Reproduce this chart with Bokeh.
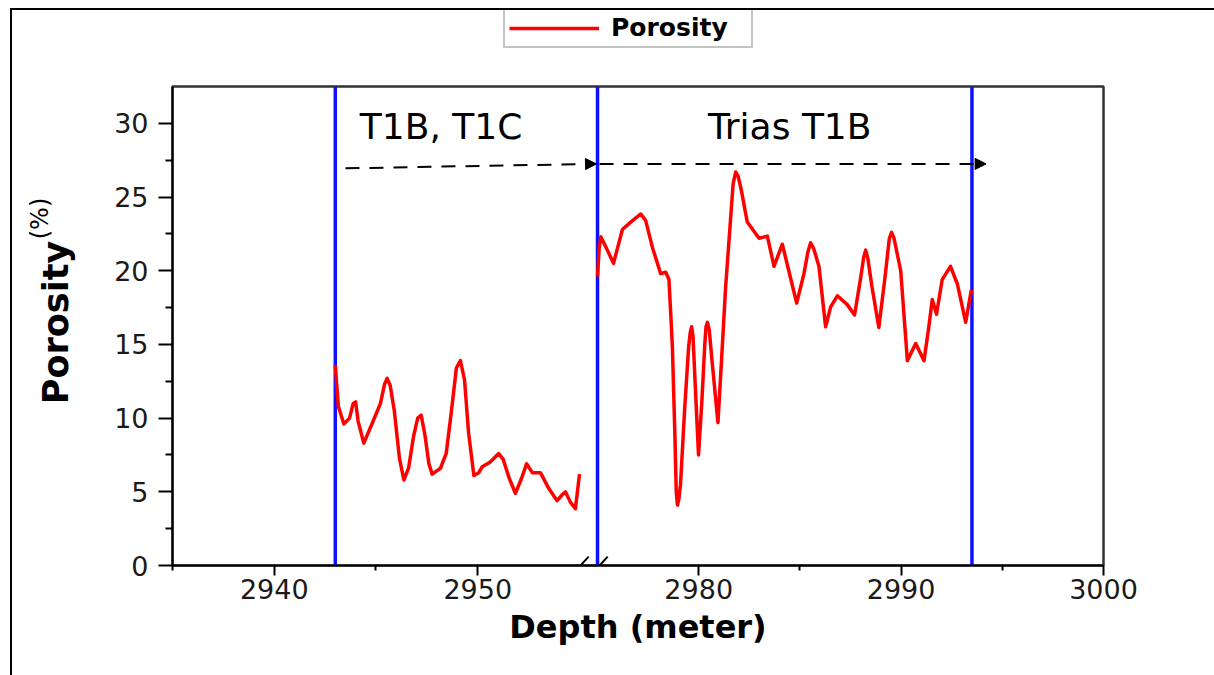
import math
from bokeh.plotting import figure
from bokeh.layouts import column
from bokeh.models import (Range1d, LinearAxis, FixedTicker, CustomJSTickFormatter, Span, Label,
                          Arrow, NormalHead, Legend, LegendItem)
from bokeh.embed import file_html
from bokeh.resources import INLINE

# ---------------- data ----------------
# upper interval (T1B, T1C) plotted on the left part of the broken axis
depth_upper = [2943.00, 2943.15, 2943.42, 2943.70, 2943.88, 2944.00, 2944.12, 2944.40, 2944.80, 2945.22,
               2945.42, 2945.55, 2945.70, 2945.90, 2946.15, 2946.37, 2946.60, 2946.85, 2947.05, 2947.22,
               2947.40, 2947.60, 2947.76, 2948.17, 2948.45, 2948.70, 2948.95, 2949.15, 2949.35, 2949.55,
               2949.81, 2950.05, 2950.22, 2950.60, 2951.03, 2951.25, 2951.55, 2951.85, 2952.15, 2952.40,
               2952.68, 2953.08, 2953.50, 2953.90, 2954.15, 2954.31, 2954.55, 2954.80, 2955.00]
poro_upper = [13.6, 10.8, 9.6, 10.0, 11.0, 11.1, 9.8, 8.3, 9.6, 11.0,
              12.3, 12.7, 12.2, 10.5, 7.3, 5.8, 6.6, 8.8, 10.0, 10.2,
              8.9, 6.9, 6.2, 6.6, 7.6, 10.4, 13.4, 13.9, 12.6, 9.0,
              6.1, 6.3, 6.7, 7.0, 7.6, 7.2, 5.9, 4.9, 5.9, 6.9,
              6.3, 6.3, 5.2, 4.4, 4.8, 5.0, 4.3, 3.85, 6.2]

# lower interval (Trias T1B) plotted on the right part of the broken axis
depth_lower = [2975.00, 2975.08, 2975.16, 2975.45, 2975.79, 2976.00, 2976.23, 2976.64, 2977.14,
               2977.38, 2977.71, 2978.12, 2978.37, 2978.53, 2978.62, 2978.70, 2978.82, 2978.89,
               2978.95, 2979.02, 2979.10, 2979.30, 2979.50, 2979.58, 2979.65, 2979.72, 2979.82,
               2979.99, 2980.15, 2980.30, 2980.36, 2980.43, 2980.52, 2980.65, 2980.95, 2981.15,
               2981.33, 2981.60, 2981.70, 2981.83, 2981.95, 2982.10, 2982.40, 2982.98, 2983.39,
               2983.72, 2984.13, 2984.45, 2984.84, 2985.20, 2985.40, 2985.53, 2985.68, 2985.94,
               2986.27, 2986.52, 2986.85, 2987.34, 2987.70, 2988.00, 2988.15, 2988.25, 2988.36,
               2988.55, 2988.90, 2989.20, 2989.42, 2989.53, 2989.65, 2989.98, 2990.31, 2990.72,
               2991.13, 2991.35, 2991.54, 2991.75, 2992.03, 2992.44, 2992.78, 2993.19, 2993.47]
poro_lower = [19.6, 21.5, 22.3, 21.5, 20.5, 21.6, 22.8, 23.3, 23.85,
              23.4, 21.6, 19.8, 19.9, 19.4, 17.0, 14.8, 9.0, 5.0,
              4.1, 4.5, 5.5, 10.5, 14.8, 15.8, 16.2, 15.5, 12.5,
              7.5, 11.0, 15.0, 16.2, 16.5, 16.0, 14.0, 9.7, 14.5,
              18.9, 24.0, 25.9, 26.7, 26.4, 25.5, 23.3, 22.2, 22.35,
              20.3, 21.8, 20.0, 17.8, 19.8, 21.3, 21.9, 21.5, 20.3,
              16.2, 17.55, 18.3, 17.7, 17.0, 19.5, 20.9, 21.4, 20.8,
              19.0, 16.15, 19.5, 22.2, 22.6, 22.2, 20.0, 13.9, 15.06,
              13.9, 16.0, 18.05, 17.05, 19.4, 20.3, 19.1, 16.5, 18.7]

# zone boundaries (depth, m) and zone names
boundary_upper = [2943.0]
boundary_lower = [2975.0, 2993.5]
zone_names = ["T1B, T1C", "Trias T1B"]

x_major_upper = [2940, 2950]
x_minor_upper = [2935, 2945]
x_major_lower = [2980, 2990, 3000]
x_minor_lower = [2985, 2995]
y_major = [0, 5, 10, 15, 20, 25, 30]
y_minor = [2.5, 7.5, 12.5, 17.5, 22.5, 27.5]

# ---------------- layout / axis geometry ----------------
OX, OY = 12, 10                 # page offset of the layout (margin + border)
LEG_H = 60                      # height of the legend strip
W = 1214 - OX
H = 675 - OY - LEG_H
FL, FR = 172 - OX, 1103 - OX    # frame edges in main-canvas px
FT, FB = 86 - OY - LEG_H, 565 - OY - LEG_H
L0, L1 = 2935.0, 2980.75        # default x range (left segment scale)
R0, R1 = 2954.0, 3000.0         # right segment x range
Y0, Y1 = 0.0, 32.5
BRK = 2957.0

def right_to_default(d):
    return min(L0 + (d - R0) * (L1 - L0) / (R1 - R0), L1)

def px_x(px):   # page px -> default x (label placement only)
    return L0 + (px - OX - FL) / (FR - FL) * (L1 - L0)

def px_y(py):
    return Y0 + (FB - (py - OY - LEG_H)) / (FB - FT) * (Y1 - Y0)

FONT = "DejaVu Sans"
RED = "#ff0000"
BLUE = "#1010ff"

p = figure(width=W, height=H, output_backend="svg", toolbar_location=None,
           x_range=Range1d(L0, L1), y_range=Range1d(Y0, Y1),
           x_axis_type=None, y_axis_type=None,
           min_border_left=FL, min_border_right=W - FR, min_border_top=FT, min_border_bottom=H - FB)
p.extra_x_ranges = {"right": Range1d(R0, R1)}
p.grid.visible = False
p.outline_line_color = "#333333"
p.outline_line_width = 2.5
p.background_fill_color = "white"
p.border_fill_color = "white"

# ---- x axis (broken) ----
xt = FixedTicker(ticks=x_major_upper + [right_to_default(d) for d in x_major_lower],
                 minor_ticks=x_minor_upper + [right_to_default(d) for d in x_minor_lower])
xf = CustomJSTickFormatter(args=dict(l0=L0, l1=L1, r0=R0, r1=R1, brk=BRK), code="""
    if (tick <= brk) { return Math.round(tick).toString(); }
    return Math.round(r0 + (tick - l0) * (r1 - r0) / (l1 - l0)).toString();
""")
xaxis = LinearAxis(ticker=xt, formatter=xf, axis_label="Depth (meter)")
p.add_layout(xaxis, "below")

yaxis = LinearAxis(ticker=FixedTicker(ticks=y_major, minor_ticks=y_minor))
p.add_layout(yaxis, "left")

for ax, tout in ((xaxis, 10), (yaxis, 14)):
    ax.axis_line_color = "black"
    ax.axis_line_width = 2
    ax.major_tick_line_color = "black"
    ax.major_tick_line_width = 2
    ax.minor_tick_line_color = "black"
    ax.minor_tick_line_width = 2
    ax.major_tick_in = 0
    ax.major_tick_out = tout
    ax.minor_tick_in = 0
    ax.minor_tick_out = tout // 2
    ax.major_label_text_font = FONT
    ax.major_label_text_font_size = "27px"
    ax.major_label_text_color = "#1a1a1a"
    ax.axis_label_text_font = FONT
    ax.axis_label_text_font_style = "bold"
    ax.axis_label_text_color = "black"

xaxis.major_label_standoff = 3
xaxis.axis_label_text_font_size = "32px"
xaxis.axis_label_standoff = 6
yaxis.major_label_standoff = 10

# y-axis title: bold "Porosity" + regular "(%)", in the left panel (not clipped by the frame)
p.add_layout(Label(x=px_x(55), y=px_y(322), text="Porosity", angle=math.pi / 2,
                   text_align="center", text_baseline="middle",
                   text_font=FONT, text_font_size="35px", text_font_style="bold", text_color="black"), "left")
p.add_layout(Label(x=2928.5, y=px_y(218), text="(%)", angle=math.pi / 2,
                   text_align="center", text_baseline="middle",
                   text_font=FONT, text_font_size="24px", text_color="black"), "left")

# ---- zone boundaries ----
for d in boundary_upper:
    p.add_layout(Span(location=d, dimension="height", line_color=BLUE, line_width=3.5, level="underlay"))
for d in boundary_lower:
    p.add_layout(Span(location=d, dimension="height", line_color=BLUE, line_width=3.5,
                      level="underlay", x_range_name="right"))

# ---- porosity curves ----
r_up = p.line(depth_upper, poro_upper, line_color=RED, line_width=3.5, line_join="round")
r_lo = p.line(depth_lower, poro_lower, line_color=RED, line_width=3.5, line_join="round",
              x_range_name="right")

# ---- zone arrows and names ----
p.add_layout(Arrow(end=NormalHead(size=11, fill_color="black", line_color="black"),
                   x_start=2943.5, y_start=26.95, x_end=right_to_default(boundary_lower[0]) - 0.05, y_end=27.25,
                   line_color="black", line_width=2, line_dash="14 10"))
p.add_layout(Arrow(end=NormalHead(size=11, fill_color="black", line_color="black"),
                   x_start=boundary_lower[0] + 0.1, y_start=27.25, x_end=2994.2, y_end=27.25,
                   line_color="black", line_width=2, line_dash="14 10", x_range_name="right"))
p.add_layout(Label(x=2948.2, y=29.8, text=zone_names[0], text_align="center", text_baseline="alphabetic",
                   text_font=FONT, text_font_size="36px", text_color="black"))
p.add_layout(Label(x=2984.5, y=29.8, text=zone_names[1], text_align="center", text_baseline="alphabetic",
                   text_font=FONT, text_font_size="36px", text_color="black", x_range_name="right"))

# ---- axis break marks ----
for xb, rng in ((2955.05, "default"), (2975.1, "right")):
    p.add_layout(Arrow(end=None, x_start=xb - 0.4, y_start=-0.6, x_end=xb + 0.4, y_end=0.6,
                       line_color="black", line_width=2, x_range_name=rng))

# ---- legend strip above the plot (its frame is aligned with the main frame) ----
pl = figure(width=W, height=LEG_H, output_backend="svg", toolbar_location=None,
            x_range=Range1d(0, 1), y_range=Range1d(0, 1), x_axis_type=None, y_axis_type=None,
            min_border=0)
pl.grid.visible = False
pl.outline_line_color = None
pl.border_fill_color = "white"
# legend key: the same red line style (the series itself lies outside this strip's ranges)
proxy = pl.line(depth_upper, poro_upper, line_color=RED, line_width=3.5)
legend = Legend(items=[LegendItem(label="Porosity", renderers=[proxy])],
                location=(503 - OX - FL, LEG_H - (48 - OY)),
                glyph_width=90, glyph_height=20, label_width=136, label_standoff=12,
                padding=4, margin=0, spacing=0,
                label_text_font=FONT, label_text_font_size="25px", label_text_font_style="bold",
                label_text_color="black",
                border_line_color="#888888", border_line_width=2,
                background_fill_color="white", background_fill_alpha=1.0)
pl.add_layout(legend)

page = column(pl, p, spacing=0,
              styles={"margin-left": "10px", "margin-top": "8px",
                      "border-left": "2px solid black", "border-top": "2px solid black"})

open("out.html", "w").write(file_html(page, INLINE))
